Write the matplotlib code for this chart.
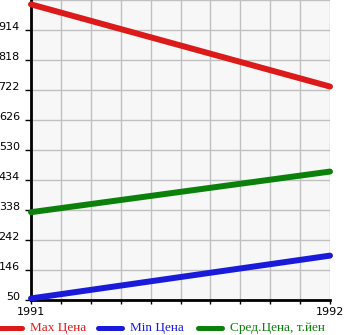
"""Price range chart for two years: max, min and average price."""

import matplotlib

matplotlib.use("Agg")
import matplotlib.pyplot as plt
import numpy as np
from matplotlib.lines import Line2D

years = [1991, 1992]
max_price = [996, 733]
min_price = [55, 192]
avg_price = [331, 461]

y_ticks = [50, 146, 242, 338, 434, 530, 626, 722, 818, 914]
legend_labels = ["Max Цена", "Min Цена", "Сред.Цена, т.йен"]

RED = "#dd1a1a"
BLUE = "#1a1adb"
GREEN = "#0b800b"

fig = plt.figure(figsize=(3.45, 3.35), dpi=100)
ax = fig.add_axes([31 / 345, 35 / 335, 299 / 345, 300 / 335])
ax.set_facecolor("#f7f7f7")

for values, color in [(max_price, RED), (min_price, BLUE), (avg_price, GREEN)]:
    ax.plot(years, values, color=color, linewidth=4.3, solid_capstyle="round", clip_on=False, zorder=3)

ax.set_xlim(1991, 1992)
ax.set_ylim(50, 1010)
ax.set_xticks(years)
ax.set_xticks(np.linspace(1991, 1992, 11), minor=True)
ax.set_yticks(y_ticks)
ax.set_yticks([1010], minor=True)
ax.grid(True, which="both", color="#c0c0c0", linewidth=1.0)
ax.set_axisbelow(True)

for side in ["top", "right"]:
    ax.spines[side].set_visible(False)
for side in ["left", "bottom"]:
    ax.spines[side].set_linewidth(2)
    ax.spines[side].set_color("black")

ax.tick_params(axis="x", which="both", direction="out", length=3, width=1, labelsize=8, pad=2)
ax.tick_params(axis="y", which="major", direction="out", length=4, width=1, labelsize=8, pad=4)
ax.tick_params(axis="y", which="minor", length=0)
for lab in ax.get_yticklabels():
    lab.set_verticalalignment("baseline")
for lab in ax.get_xticklabels() + ax.get_yticklabels():
    lab.set_family("DejaVu Sans")

# legend drawn by hand under the plot
legend_y = 1 - 328 / 335
entries = [(0, 22, 30, RED), (98, 122, 130, BLUE), (198, 222, 230, GREEN)]
for (x0, x1, tx, color), label in zip(entries, legend_labels):
    fig.add_artist(Line2D([x0 / 345, x1 / 345], [legend_y, legend_y], color=color,
                          linewidth=3.6, solid_capstyle="round", transform=fig.transFigure))
    fig.text(tx / 345, legend_y, label, color=color, fontsize=9.5, family="Liberation Serif",
             va="center", ha="left")

fig.savefig("out.png", dpi=100)
